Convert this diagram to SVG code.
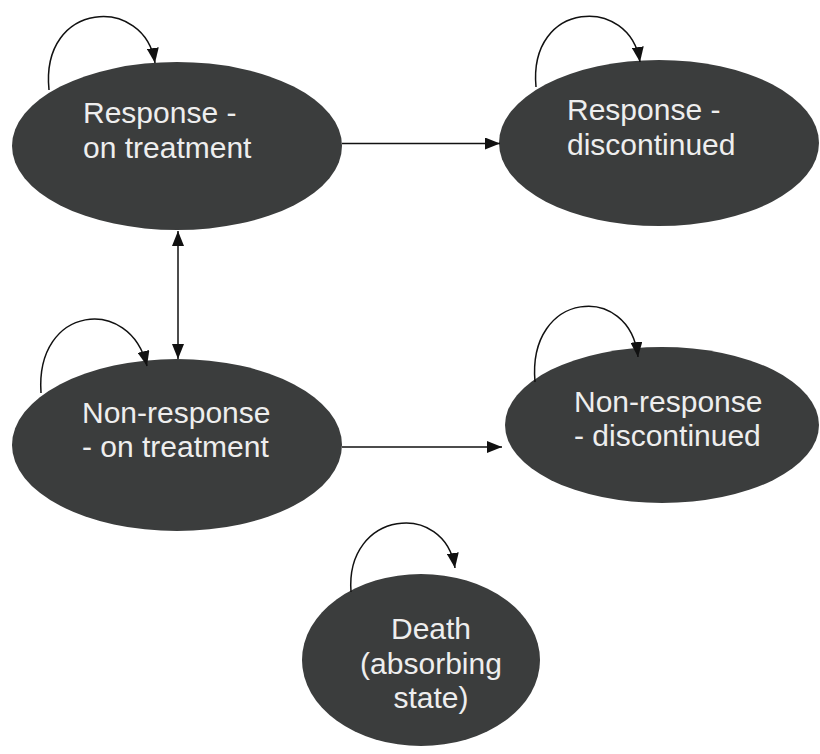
<svg xmlns="http://www.w3.org/2000/svg" width="820" height="754" viewBox="0 0 820 754">
<style>
.node { fill: #3b3d3d; }
.lbl { font-family: "Liberation Sans", Arial, sans-serif; font-size: 30px; fill: #eeeeee; }
.edge { fill: none; stroke: #111; stroke-width: 1.5; }
</style>
<defs>
<marker id="ah" viewBox="0 0 15 12" refX="15" refY="6" markerWidth="15" markerHeight="12" markerUnits="userSpaceOnUse" orient="auto-start-reverse">
<path d="M0,0 L15,6 L0,12 z" fill="#111"/>
</marker>
</defs>
<rect width="820" height="754" fill="#ffffff"/>
<g id="n-response-on">
<ellipse class="node" cx="177" cy="146" rx="165" ry="84"/>
<text class="lbl" x="83" y="123">Response -</text>
<text class="lbl" x="83" y="158">on treatment</text>
</g>
<g id="n-response-disc">
<ellipse class="node" cx="659" cy="143" rx="160" ry="83"/>
<text class="lbl" x="567" y="120">Response -</text>
<text class="lbl" x="567" y="155">discontinued</text>
</g>
<g id="n-nonresponse-on">
<ellipse class="node" cx="177" cy="445" rx="165" ry="86"/>
<text class="lbl" x="82" y="423">Non-response</text>
<text class="lbl" x="82" y="457">- on treatment</text>
</g>
<g id="n-nonresponse-disc">
<ellipse class="node" cx="662" cy="425" rx="157" ry="78"/>
<text class="lbl" x="574" y="412">Non-response</text>
<text class="lbl" x="574" y="446">- discontinued</text>
</g>
<g id="n-death">
<ellipse class="node" cx="421" cy="660" rx="119" ry="86"/>
<text class="lbl" x="431" y="639" text-anchor="middle">Death</text>
<text class="lbl" x="431" y="674" text-anchor="middle">(absorbing</text>
<text class="lbl" x="431" y="708" text-anchor="middle">state)</text>
</g>
<g id="connectors">
<path class="edge" d="M49 90 C40 0 145 -5 155 63" marker-end="url(#ah)"/>
<path class="edge" d="M536 87 C528 0 630 -5 640 62" marker-end="url(#ah)"/>
<path class="edge" d="M41 393 C35 305 130 295 147 366" marker-end="url(#ah)"/>
<path class="edge" d="M535 382 C527 290 630 282 638 357" marker-end="url(#ah)"/>
<path class="edge" d="M351 592 C345 510 445 500 455 568" marker-end="url(#ah)"/>
<path class="edge" d="M342 143.5 L500 143.5" marker-end="url(#ah)"/>
<path class="edge" d="M342 447 L502 447" marker-end="url(#ah)"/>
<path class="edge" d="M178 231 L178 359" marker-start="url(#ah)" marker-end="url(#ah)"/>
</g>
</svg>
